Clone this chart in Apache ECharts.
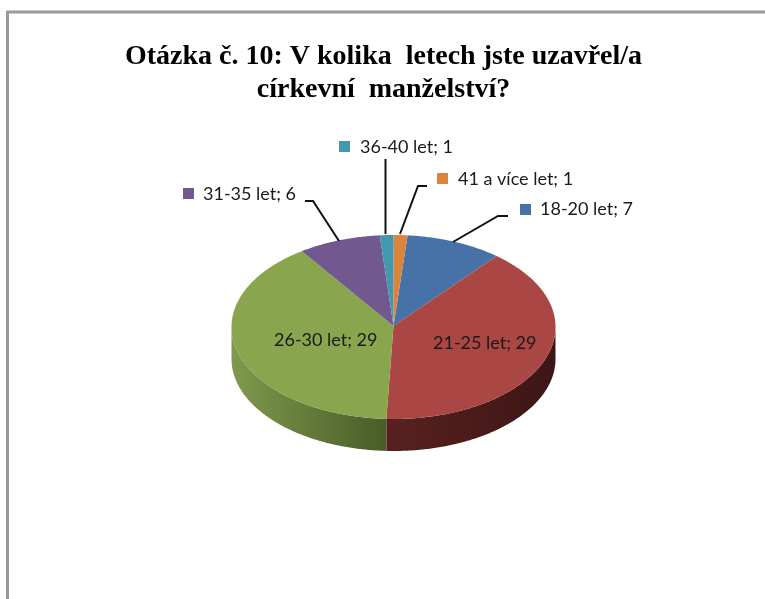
<!DOCTYPE html>
<html>
<head>
<meta charset="utf-8">
<style>
  html, body { margin: 0; padding: 0; background: #fff; }
  #main { width: 765px; height: 599px; }
</style>
<script src="https://cdn.jsdelivr.net/npm/echarts@6/dist/echarts.min.js"></script>
</head>
<body>
<div id="main"></div>
<script>
const titleText = 'Otázka č. 10: V kolika  letech jste uzavřel/a\ncírkevní  manželství?';
const categories = ['18-20 let', '21-25 let', '26-30 let', '31-35 let', '36-40 let', '41 a více let'];
const values = [7, 29, 29, 6, 1, 1];

const colors = ['#4672a8', '#aa4643', '#89a54e', '#71588f', '#4198af', '#db843d'];
// side wall gradients, left to right (only the slices reaching the front need one)
const wallColors = [null, ['#58211f', '#3c1615'], ['#7f9a4c', '#485c28'], null, null, null];

// pie ellipse
const cx = 393.5, cy = 327, rx = 162, ry = 92, depth = 32;
const startAngle = 5 * Math.PI / 180;

// label placement: text x, text y, key x, key y, leader line
const labelLayout = [
  { x: 540, y: 209, kx: 520, ky: 204, line: [[508, 216], [498, 216], [453, 242]] },
  { x: 433, y: 343 },
  { x: 274, y: 340 },
  { x: 203, y: 194, kx: 183, ky: 188, line: [[305, 201], [313, 201], [339, 241]] },
  { x: 360, y: 147, kx: 339, ky: 141, line: [[385.5, 159], [385.5, 234]] },
  { x: 458, y: 179, kx: 437, ky: 173, line: [[427, 186], [418, 186], [400, 234]] }
];

const total = values.reduce((a, b) => a + b, 0);
const toAngle = v => v / total * Math.PI * 2;

function rimPoint(a, dy) {
  return [cx + rx * Math.sin(a), cy - ry * Math.cos(a) + (dy || 0)];
}

function arcPoints(a0, a1, dy) {
  let n = Math.max(2, Math.ceil((a1 - a0) / 0.01));
  let pts = [];
  for (let i = 0; i <= n; i++) {
    pts.push(rimPoint(a0 + (a1 - a0) * i / n, dy));
  }
  return pts;
}

function renderSlice(params, api) {
  let i = params.dataIndex;
  let before = values.slice(0, i).reduce((a, b) => a + b, 0);
  let a0 = startAngle + toAngle(before);
  let a1 = a0 + toAngle(api.value(0));
  let children = [];

  // front wall
  let w0 = Math.max(a0, Math.PI / 2), w1 = Math.min(a1, Math.PI * 1.5);
  if (wallColors[i] && w1 > w0) {
    let top = arcPoints(w0, w1, 0), bottom = arcPoints(w0, w1, depth).reverse();
    children.push({
      type: 'polygon',
      shape: { points: top.concat(bottom) },
      style: {
        fill: new echarts.graphic.LinearGradient(0, 0, 1, 0, [
          { offset: 0, color: wallColors[i][0] },
          { offset: 1, color: wallColors[i][1] }
        ])
      }
    });
  }

  // top face
  children.push({
    type: 'polygon',
    shape: { points: [[cx, cy - 1]].concat(arcPoints(a0, a1, 0)) },
    style: { fill: colors[i] }
  });

  return { type: 'group', children: children };
}

function renderLabel(params, api) {
  let i = params.dataIndex;
  let l = labelLayout[i];
  let children = [];
  if (l.line) {
    children.push({
      type: 'polyline',
      shape: { points: l.line },
      style: { stroke: '#111', lineWidth: 2, fill: null }
    });
    children.push({
      type: 'rect',
      shape: { x: l.kx, y: l.ky, width: 11, height: 11 },
      style: { fill: colors[i] }
    });
  }
  children.push({
    type: 'text',
    style: {
      x: l.x,
      y: l.y,
      text: categories[i] + '; ' + api.value(0),
      fill: '#1a1a1a',
      font: '18px Lato',
      textVerticalAlign: 'middle'
    }
  });
  return { type: 'group', children: children };
}

let chart = echarts.init(document.getElementById('main'));
let seriesData = categories.map((c, i) => ({ name: c, value: values[i] }));

let option = {
  animation: false,
  backgroundColor: '#fff',
  title: {
    text: titleText,
    left: 378.5,
    top: 35,
    textAlign: 'center',
    textStyle: {
      fontFamily: 'Liberation Serif',
      fontWeight: 'bold',
      fontSize: 28,
      lineHeight: 33,
      color: '#000'
    }
  },
  graphic: [{
    type: 'polyline',
    silent: true,
    shape: { points: [[7.5, 599], [7.5, 12], [765, 12]] },
    style: { stroke: '#9a9a9a', lineWidth: 3, fill: null }
  }],
  series: [
    {
      type: 'custom',
      name: 'pie',
      coordinateSystem: 'none',
      clip: false,
      renderItem: renderSlice,
      data: seriesData,
      z: 2
    },
    {
      type: 'custom',
      name: 'labels',
      coordinateSystem: 'none',
      clip: false,
      renderItem: renderLabel,
      data: seriesData,
      z: 3
    }
  ]
};
chart.setOption(option);
</script>
</body>
</html>
